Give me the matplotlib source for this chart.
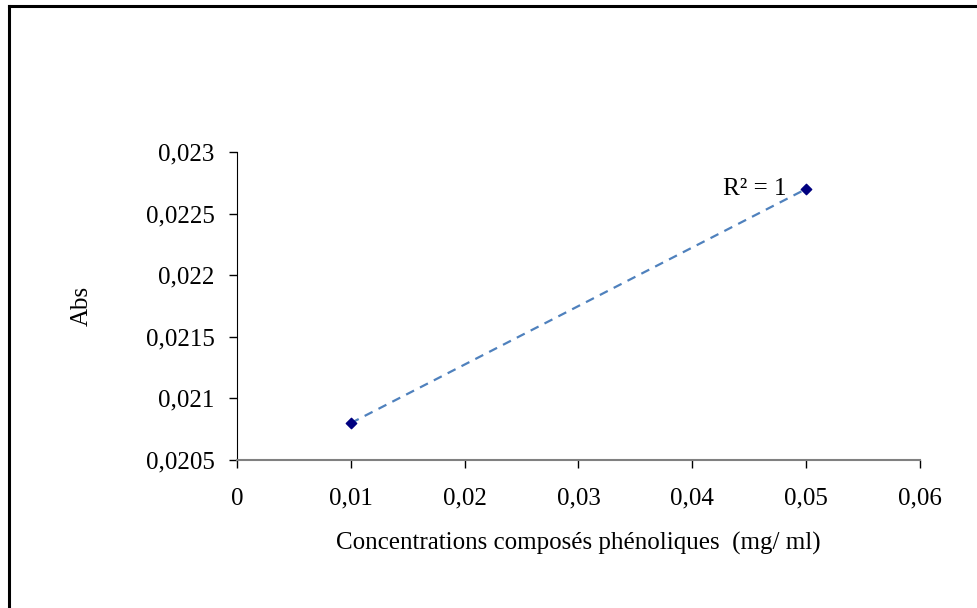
import matplotlib.pyplot as plt
from matplotlib.lines import Line2D

# data
conc = [0.01, 0.05]
absorb = [0.0208, 0.0227]
x_ticks = [0, 0.01, 0.02, 0.03, 0.04, 0.05, 0.06]
x_labels = ['0', '0,01', '0,02', '0,03', '0,04', '0,05', '0,06']
y_ticks = [0.0205, 0.021, 0.0215, 0.022, 0.0225, 0.023]
y_labels = ['0,0205', '0,021', '0,0215', '0,022', '0,0225', '0,023']

plt.rcParams['font.family'] = ['Liberation Serif', 'DejaVu Serif']

fig = plt.figure(figsize=(9.78, 6.08), dpi=100)
ax = fig.add_axes([0.2423, 0.2434, 0.6984, 0.5066])

# trend line (linear fit through the two points)
ax.plot(conc, absorb, linestyle=(0, (4, 3)), color='#4F81BD', linewidth=1.6, zorder=2)
ax.scatter(conc, absorb, marker='D', s=28, color='#000080', zorder=3)

ax.annotate('R² = 1', xy=(conc[1], absorb[1]), xytext=(-14, 0),
            textcoords='offset points', ha='right', va='center', fontsize=18)

ax.set_xlim(0, 0.06)
ax.set_ylim(0.0205, 0.023)
ax.set_xticks(x_ticks)
ax.set_xticklabels(x_labels)
ax.set_yticks(y_ticks)
ax.set_yticklabels(y_labels)
ax.tick_params(axis='both', direction='out', length=6, width=1, labelsize=18, pad=10)
ax.tick_params(axis='x', pad=14)

for s in ['top', 'right']:
    ax.spines[s].set_visible(False)
ax.spines['left'].set_color('black')
ax.spines['bottom'].set_color('#808080')
ax.spines['bottom'].set_linewidth(1.5)

ax.set_xlabel('Concentrations composés phénoliques  (mg/ ml)', fontsize=18, labelpad=16)
ax.set_ylabel('Abs', fontsize=18, labelpad=38)

# outer chart frame (only top and left edges visible in the crop)
fig.add_artist(Line2D([8.5 / 978, 8.5 / 978], [0, 1 - 6 / 608], transform=fig.transFigure,
                      color='black', linewidth=2.2))
fig.add_artist(Line2D([8.5 / 978, 1], [1 - 6 / 608, 1 - 6 / 608], transform=fig.transFigure,
                      color='black', linewidth=2.2))

fig.savefig('out.png', dpi=100)
